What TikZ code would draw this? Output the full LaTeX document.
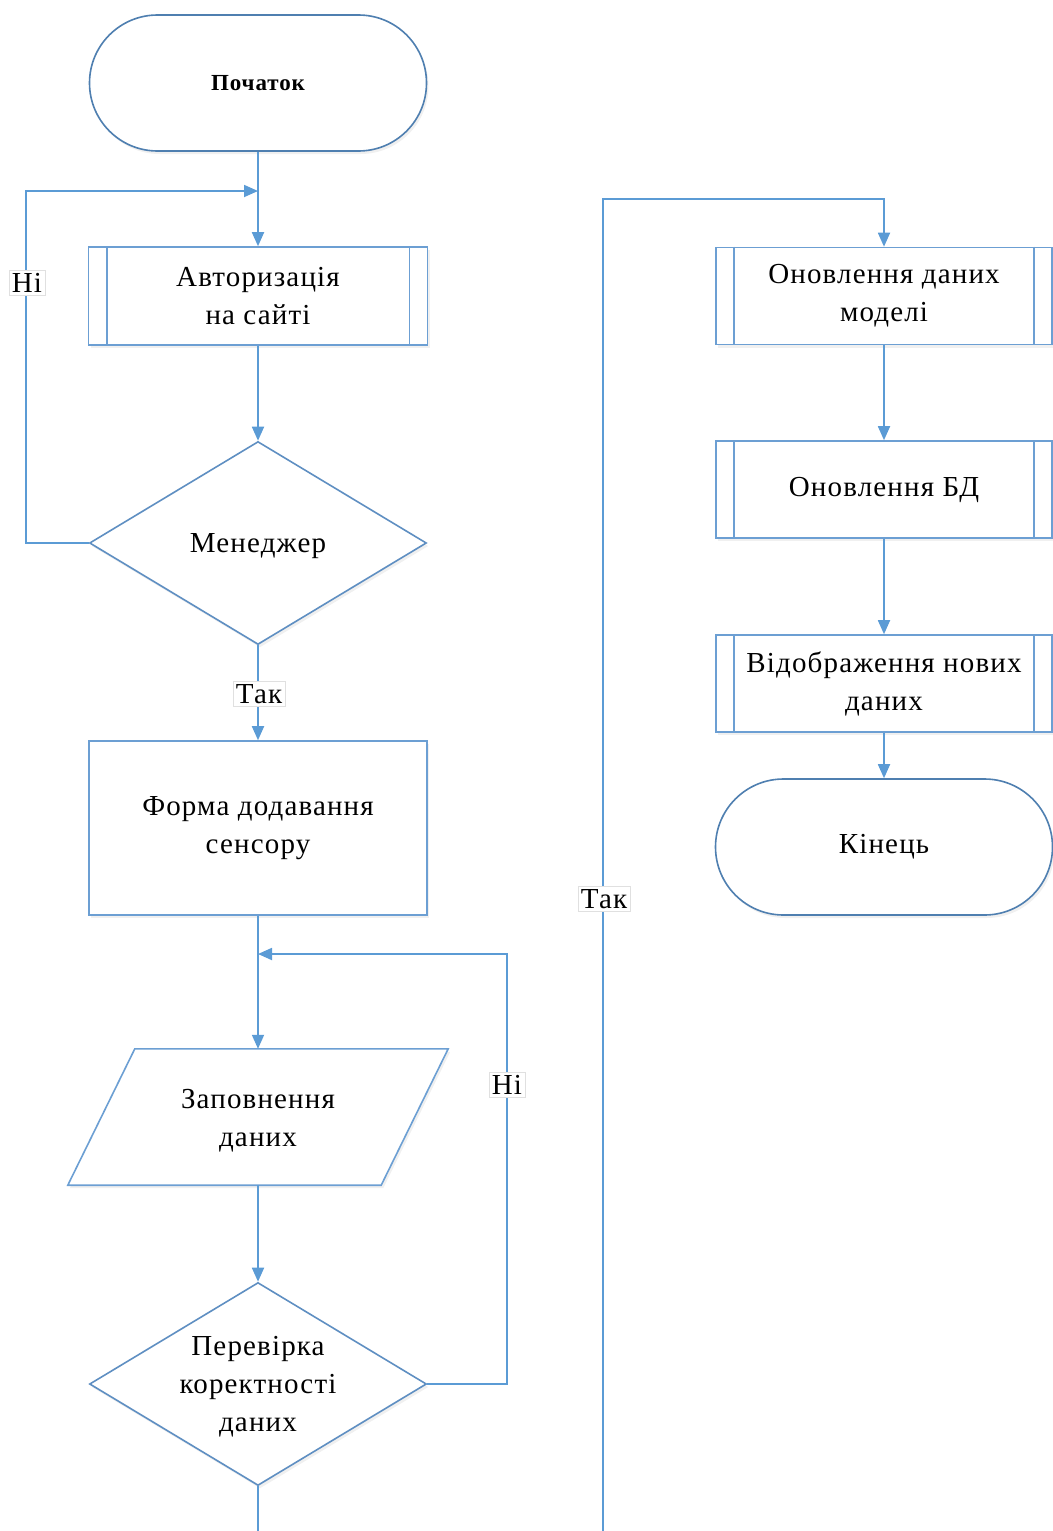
\documentclass[tikz,border=0pt]{standalone}
\usepackage{fontspec}
\setmainfont{Liberation Serif}[LetterSpace=4]
\usetikzlibrary{arrows.meta,shadows,shapes.geometric}

\definecolor{flowc}{HTML}{5B9BD5}
\definecolor{boxc}{HTML}{6C9FD3}
\definecolor{termc}{HTML}{4F7FB0}
\definecolor{diac}{HTML}{5F8FC2}

\tikzset{
  base/.style={draw=boxc, line width=1.6pt, fill=white, align=center, inner sep=0pt,
    font=\fontsize{29}{38}\selectfont,
    drop shadow={opacity=0.12, shadow xshift=2pt, shadow yshift=-3pt}},
  term/.style={base, draw=termc, rounded corners=68pt, minimum width=337pt, minimum height=136pt},
  subbox/.style={base, minimum width=339pt, minimum height=98pt},
  subboxr/.style={base, minimum width=336pt, minimum height=97pt},
  procbox/.style={base, minimum width=338pt, minimum height=174pt},
  dia/.style={base, draw=diac, diamond, minimum width=337pt, minimum height=203pt},
  diatxt/.style={align=center, font=\fontsize{29}{38}\selectfont},
  inner/.style={draw=boxc, line width=1.6pt},
  lbl/.style={fill=white, draw=black!12, line width=0.6pt, inner sep=3pt,
    font=\fontsize{29}{34}\selectfont},
  link/.style={draw=flowc, line width=1.8pt},
  flow/.style={link, -{Triangle[length=14pt,width=12pt]}},
}

\begin{document}
\begin{tikzpicture}[x=1pt,y=-1pt]
\useasboundingbox (0,0) rectangle (1052,1531);

% left column
\node[term, font=\fontsize{23}{28}\selectfont\bfseries] (start) at (258,83) {Початок};
\node[subbox] (auth) at (258,296) {Авторизація\\на сайті};
\draw[inner] ([xshift=19pt]auth.north west) -- ([xshift=19pt]auth.south west);
\draw[inner] ([xshift=-19pt]auth.north east) -- ([xshift=-19pt]auth.south east);
\node[dia] (mgr) at (258,543) {};
\node[diatxt] (mgrt) at (258,546) {Менеджер};
\node[procbox] (form) at (258,828) {Форма додавання\\сенсору};

% parallelogram for data input
\node[minimum width=313pt, minimum height=136pt, inner sep=0pt] (fill) at (258,1117) {};
\path[base, draw=boxc] ([xshift=33.5pt]fill.north west) -- ([xshift=33.5pt]fill.north east)
  -- ([xshift=-33.5pt]fill.south east) -- ([xshift=-33.5pt]fill.south west) -- cycle;
\node[diatxt] (fillt) at (258,1121) {Заповнення\\даних};

\node[dia] (chk) at (258,1384) {};
\node[diatxt] (chkt) at (258,1387) {Перевірка\\коректності\\даних};

% right column
\node[subboxr] (upd) at (884,296) {Оновлення даних\\моделі};
\draw[inner] ([xshift=19pt]upd.north west) -- ([xshift=19pt]upd.south west);
\draw[inner] ([xshift=-19pt]upd.north east) -- ([xshift=-19pt]upd.south east);
\node[subboxr] (db) at (884,489.5) {Оновлення БД};
\draw[inner] ([xshift=19pt]db.north west) -- ([xshift=19pt]db.south west);
\draw[inner] ([xshift=-19pt]db.north east) -- ([xshift=-19pt]db.south east);
\node[subboxr] (show) at (884,683.5) {Відображення нових\\даних};
\draw[inner] ([xshift=19pt]show.north west) -- ([xshift=19pt]show.south west);
\draw[inner] ([xshift=-19pt]show.north east) -- ([xshift=-19pt]show.south east);
\node[term] (end) at (884,847) {Кінець};

% junctions and free ends
\coordinate (j1) at (258,191);
\coordinate (j2) at (258,954);
\coordinate (bot1) at (258,1545);
\coordinate (bot2) at (603,1545);
\coordinate (top2) at (603,199);

% connectors
\draw[flow] (start) -- (auth);
\draw[flow] (auth) -- (mgr);
\draw[flow] (mgr.west) -- ++(-63,0) |- (j1);
\draw[flow] (mgr.south) -- (form.north);
\draw[flow] (form) -- (fill);
\draw[flow] (fill) -- (chk);
\draw[flow] (chk.east) -- ++(80,0) |- (j2);
\draw[link] (chk.south) -- (bot1);
\draw[flow] (bot2) -- (top2) -| (upd.north);
\draw[flow] (upd) -- (db);
\draw[flow] (db) -- (show);
\draw[flow] (show) -- (end);

% branch labels
\node[lbl] (no1) at (27,283) {Ні};
\node[lbl] (yes1) at (259,694) {Так};
\node[lbl] (no2) at (507,1085) {Ні};
\node[lbl] (yes2) at (604,899) {Так};
\end{tikzpicture}
\end{document}
